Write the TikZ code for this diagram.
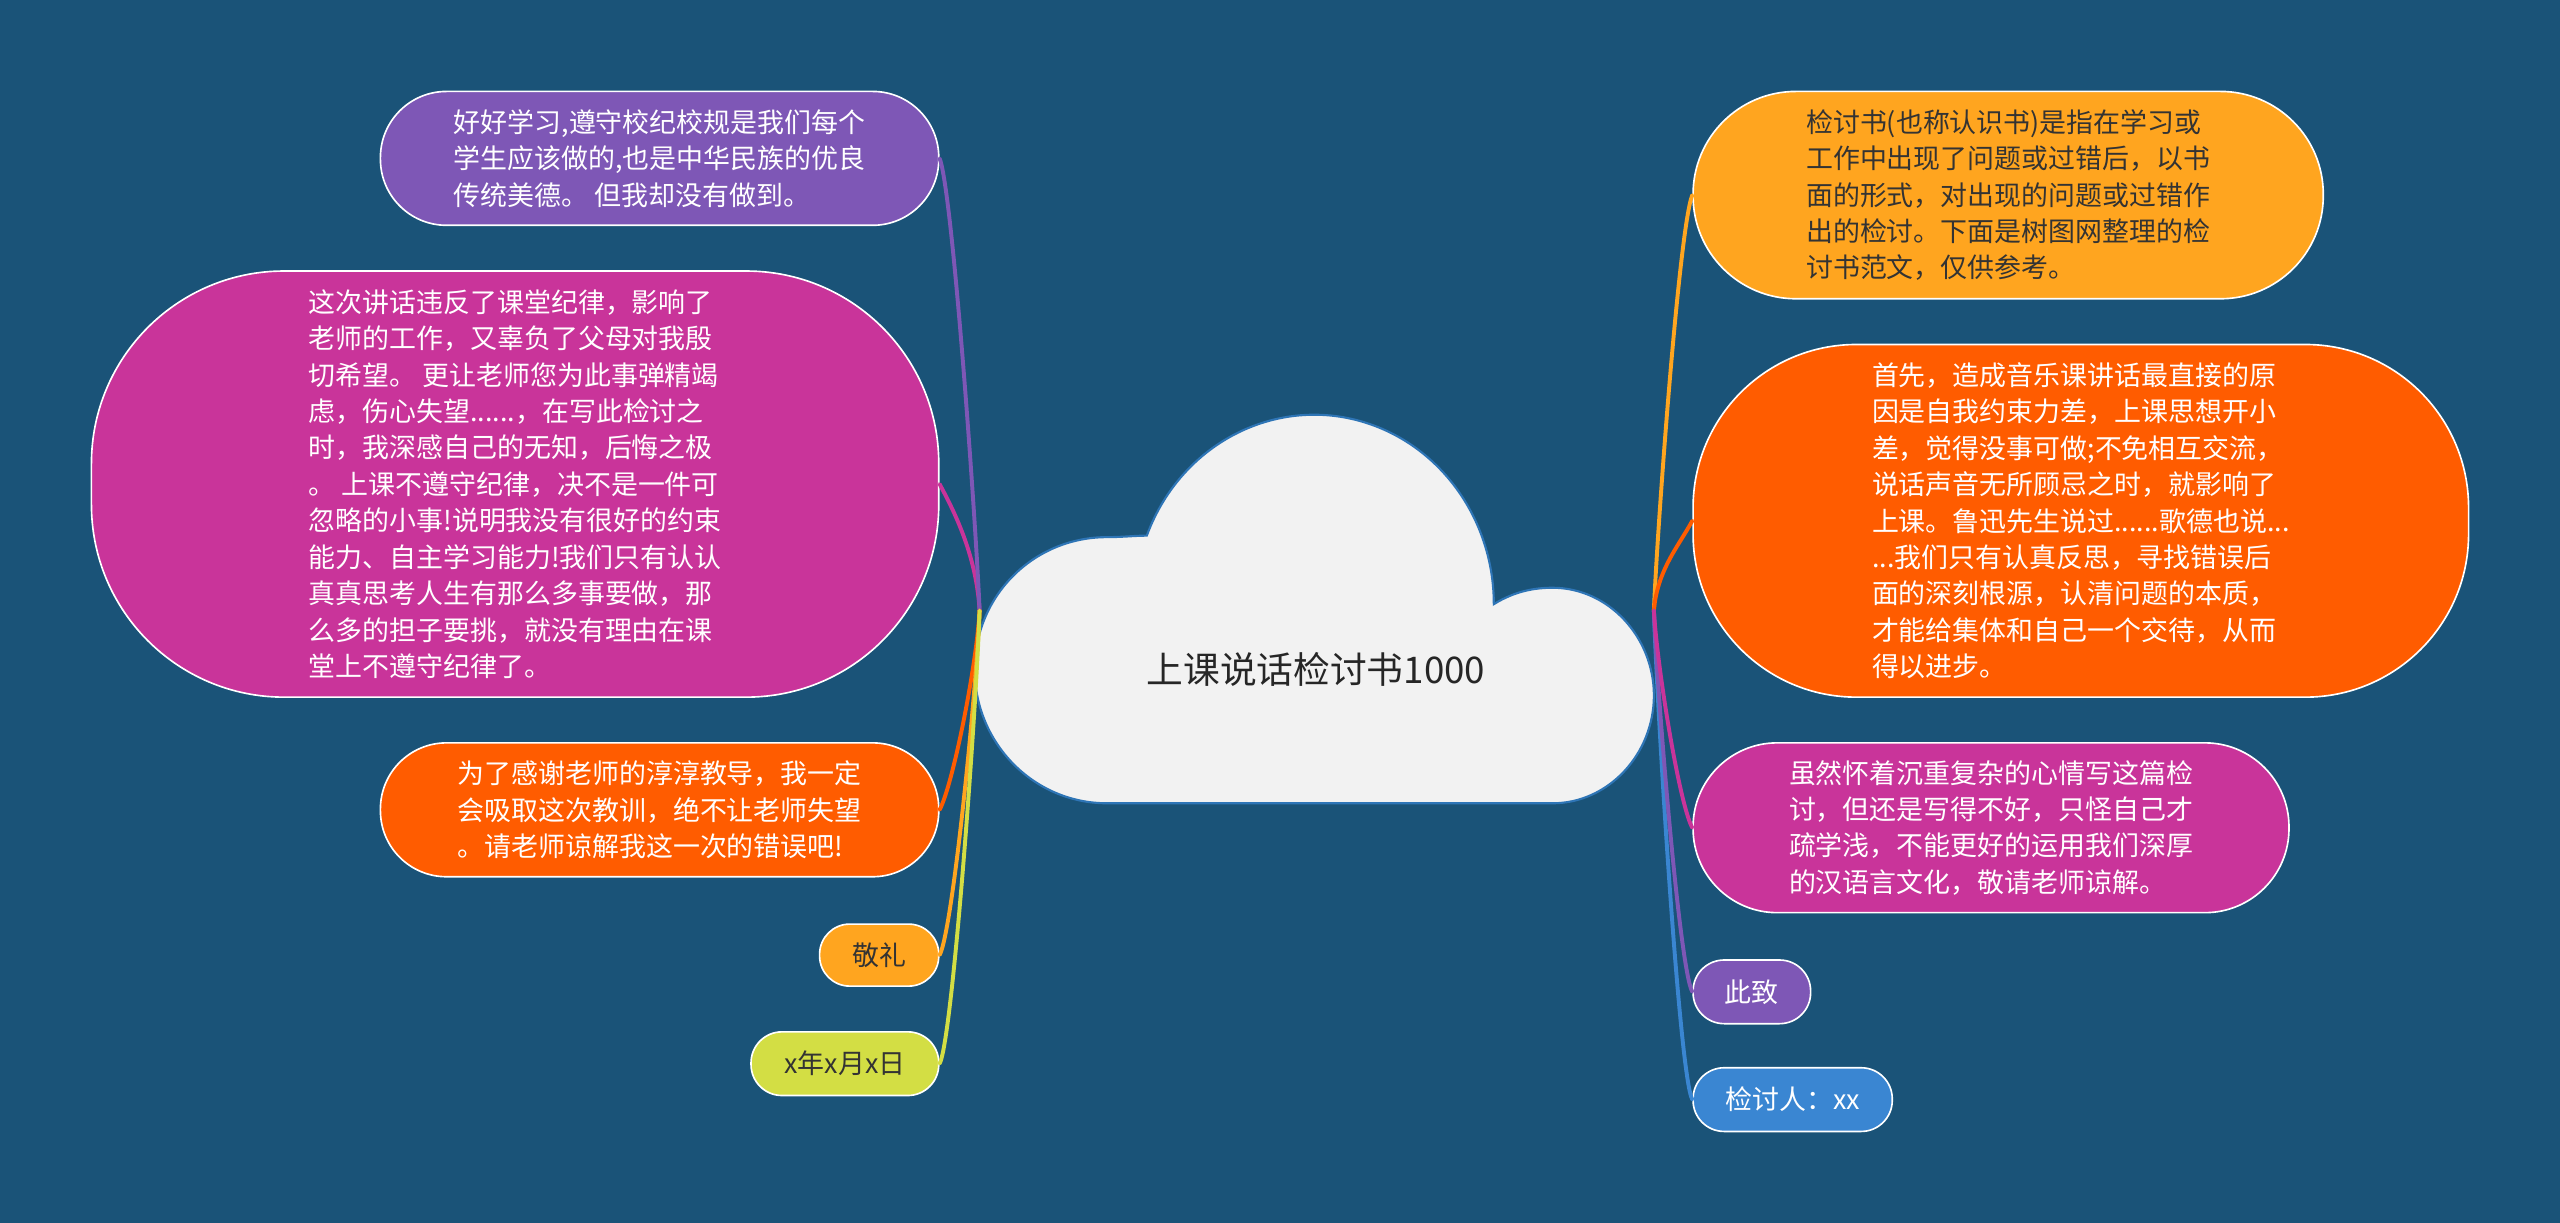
\documentclass[tikz,border=0pt]{standalone}
\usepackage{fontspec}
\setmainfont{Noto Sans CJK SC}
\definecolor{bg}{HTML}{1A5378}
\definecolor{cpurple}{HTML}{7E57B6}
\definecolor{cmagenta}{HTML}{C9349A}
\definecolor{corange}{HTML}{FF5C00}
\definecolor{camber}{HTML}{FFA51F}
\definecolor{cyg}{HTML}{D3DE44}
\definecolor{cblue}{HTML}{3A86D2}
\definecolor{cloudfill}{HTML}{F2F2F2}
\definecolor{cloudline}{HTML}{2E75B6}
\definecolor{darktext}{HTML}{333333}
\tikzset{
  box/.style={draw=white, line width=1pt, align=left, inner sep=0pt,
    font=\fontsize{16.5pt}{22.3pt}\selectfont},
  conn/.style={line width=2.4pt, line cap=round},
}
\begin{document}
\begin{tikzpicture}[x=1pt,y=-1pt]
\useasboundingbox (0,0) rectangle (1568,749);
\fill[bg] (0,0) rectangle (1568,749);

% cloud
\draw[fill=cloudfill, draw=cloudline, line width=1.3pt]
  (702.4,328.1) arc[start angle=201.2, end angle=360, x radius=110, y radius=116]
  .. controls (928,362) and (940,360) .. (951,360)
  .. controls (985,360) and (1013,390) .. (1013,426)
  .. controls (1013,462) and (985,492) .. (951,492)
  -- (678,492)
  .. controls (633,492) and (597,455) .. (597,410)
  .. controls (597,365) and (633,329) .. (678,329)
  .. controls (688,329) and (696,328) .. (702.4,328.1) -- cycle;
\node[font=\fontsize{22.5pt}{27pt}\selectfont, text=black!85] (title) at (806,410) {上课说话检讨书1000};

\coordinate (hubL) at (600,374);
\coordinate (hubR) at (1013,374);

% left nodes
\node[box, fill=cpurple, text=white, minimum width=342pt, minimum height=82pt, rounded corners=40.5pt] (n1) at (404,97)
  {好好学习,遵守校纪校规是我们每个\\学生应该做的,也是中华民族的优良\\传统美德。 但我却没有做到。};
\node[box, fill=cmagenta, text=white, minimum width=519pt, minimum height=261pt, rounded corners=118pt] (n2) at (315.5,296.5)
  {这次讲话违反了课堂纪律，影响了\\老师的工作，又辜负了父母对我殷\\切希望。 更让老师您为此事弹精竭\\虑，伤心失望......，在写此检讨之\\时，我深感自己的无知，后悔之极\\。 上课不遵守纪律，决不是一件可\\忽略的小事!说明我没有很好的约束\\能力、自主学习能力!我们只有认认\\真真思考人生有那么多事要做，那\\么多的担子要挑，就没有理由在课\\堂上不遵守纪律了。};
\node[box, fill=corange, text=white, minimum width=342pt, minimum height=82pt, rounded corners=40.5pt] (n3) at (404,496)
  {为了感谢老师的淳淳教导，我一定\\会吸取这次教训，绝不让老师失望\\。请老师谅解我这一次的错误吧!};
\node[box, fill=camber, text=darktext, minimum width=73pt, minimum height=38pt, rounded corners=18.5pt] (n4) at (538.5,585) {敬礼};
\node[box, fill=cyg, text=darktext, minimum width=115pt, minimum height=39pt, rounded corners=19pt] (n5) at (517.5,651.5) {x年x月x日};

% right nodes
\node[box, fill=camber, text=darktext, minimum width=386pt, minimum height=127pt, rounded corners=63pt] (n6) at (1230,119.5)
  {检讨书(也称认识书)是指在学习或\\工作中出现了问题或过错后，以书\\面的形式，对出现的问题或过错作\\出的检讨。下面是树图网整理的检\\讨书范文，仅供参考。};
\node[box, fill=corange, text=white, minimum width=475pt, minimum height=216pt, rounded corners=100pt] (n7) at (1274.5,319)
  {首先，造成音乐课讲话最直接的原\\因是自我约束力差，上课思想开小\\差，觉得没事可做;不免相互交流，\\说话声音无所顾忌之时，就影响了\\上课。鲁迅先生说过......歌德也说...\\...我们只有认真反思，寻找错误后\\面的深刻根源，认清问题的本质，\\才能给集体和自己一个交待，从而\\得以进步。};
\node[box, fill=cmagenta, text=white, minimum width=365pt, minimum height=104pt, rounded corners=51.5pt] (n8) at (1219.5,507)
  {虽然怀着沉重复杂的心情写这篇检\\讨，但还是写得不好，只怪自己才\\疏学浅，不能更好的运用我们深厚\\的汉语言文化，敬请老师谅解。};
\node[box, fill=cpurple, text=white, minimum width=72pt, minimum height=39pt, rounded corners=19pt] (n9) at (1073,607.5) {此致};
\node[box, fill=cblue, text=white, minimum width=122pt, minimum height=39pt, rounded corners=19pt] (n10) at (1098,673.5) {检讨人：xx};

% connectors left
\draw[conn, cmagenta] (n2.east) .. controls +(8,15) and +(-2,-35) .. (hubL);
\draw[conn, cpurple] (n1.east) .. controls +(8,20) and +(-2,-50) .. (hubL);
\draw[conn, corange] (n3.east) .. controls +(8,-15) and +(-2,35) .. (hubL);
\draw[conn, camber] (n4.east) .. controls +(8,-15) and +(-2,50) .. (hubL);
\draw[conn, cyg] (n5.east) .. controls +(8,-15) and +(-2,60) .. (hubL);

% connectors right
\draw[conn, camber] (n6.west) .. controls +(-8,20) and +(2,-50) .. (hubR);
\draw[conn, corange] (n7.west) .. controls +(-8,15) and +(2,-25) .. (hubR);
\draw[conn, cblue] (n10.west) .. controls +(-8,-15) and +(2,60) .. (hubR);
\draw[conn, cpurple] (n9.west) .. controls +(-8,-15) and +(2,50) .. (hubR);
\draw[conn, cmagenta] (n8.west) .. controls +(-8,-15) and +(2,35) .. (hubR);
\end{tikzpicture}
\end{document}
